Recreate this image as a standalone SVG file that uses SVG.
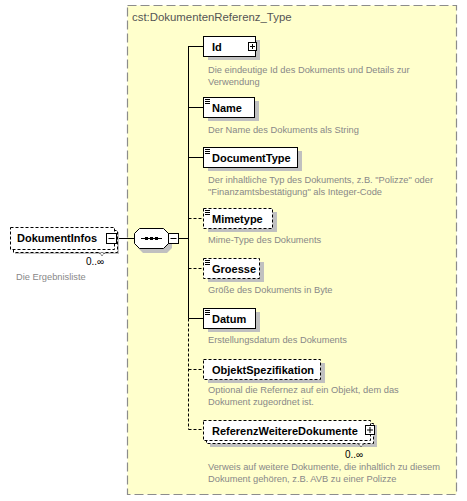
<svg xmlns="http://www.w3.org/2000/svg" width="467" height="501" viewBox="0 0 467 501">
<style>
.bg{fill:#ffffcc;stroke:#8c8c8c;stroke-width:1.2;stroke-dasharray:9,4}
.sh{fill:#c0c0c0}
.box{fill:#ffffff;stroke:#000;stroke-width:1}
.opt{fill:#ffffff;stroke:#000;stroke-width:1;stroke-dasharray:3,2}
.lbl{font-family:"Liberation Sans",Arial,sans-serif;font-size:11px;font-weight:bold;fill:#000}
.desc{font-family:"Liberation Sans",Arial,sans-serif;font-size:9.3px;fill:#888888}
.title{font-family:"Liberation Sans",Arial,sans-serif;font-size:11.4px;fill:#555555}
.occ{font-family:"Liberation Sans",Arial,sans-serif;font-size:10px;fill:#000}
.ln{stroke:#000;stroke-width:1;fill:none}
.dl{stroke:#000;stroke-width:1;fill:none;stroke-dasharray:3,2}
.ic{fill:#fff;stroke:#000;stroke-width:1}
</style>
<defs>
<g id="lines"><path d="M2,2.5h5M2,4.5h5M2,6.5h5" stroke="#000" stroke-width="1"/></g>
</defs>

<rect class="bg" x="127.5" y="5.5" width="329" height="489"/>
<text class="title" x="132" y="21">cst:DokumentenReferenz_Type</text>

<g id="connectors">
<line class="ln" x1="119" y1="238.5" x2="134" y2="238.5"/>
<line class="ln" x1="178" y1="238.5" x2="188.5" y2="238.5"/>
<line class="ln" x1="188.5" y1="46" x2="188.5" y2="318.5"/>
<line class="dl" x1="188.5" y1="318.5" x2="188.5" y2="429.5"/>
<line class="ln" x1="188.5" y1="46.5" x2="203" y2="46.5"/>
<line class="ln" x1="188.5" y1="107.5" x2="203" y2="107.5"/>
<line class="ln" x1="188.5" y1="157.5" x2="203" y2="157.5"/>
<line class="dl" x1="188.5" y1="218.5" x2="203" y2="218.5"/>
<line class="dl" x1="188.5" y1="268.5" x2="203" y2="268.5"/>
<line class="ln" x1="188.5" y1="318.5" x2="203" y2="318.5"/>
<line class="dl" x1="188.5" y1="369.5" x2="203" y2="369.5"/>
<line class="dl" x1="188.5" y1="429.5" x2="203" y2="429.5"/>
</g>

<g id="DokumentInfos">
<rect class="sh" x="15" y="232" width="104" height="22"/>
<rect class="opt" x="13.5" y="230.5" width="104" height="22"/>
<rect class="opt" x="10.5" y="227.5" width="104" height="22"/>
<path d="M99,252.5l3,3l3,-3" fill="#fff" stroke="#000" stroke-width="1" stroke-dasharray="2,1"/>
<text class="lbl" x="17" y="242">DokumentInfos</text>
<rect class="ic" x="106.5" y="233.5" width="10" height="10"/>
<line class="ln" x1="108.5" y1="238.5" x2="114.5" y2="238.5"/>
<text class="occ" x="86" y="265">0..∞</text>
<text class="desc" x="16" y="280">Die Ergebnisliste</text>
</g>

<g id="sequence">
<polygon class="sh" points="143,232 167,232 172,237 172,248 167,253 143,253 138,248 138,237"/>
<polygon class="box" points="139.5,228.5 163.5,228.5 168.5,233.5 168.5,243.5 163.5,248.5 139.5,248.5 134.5,243.5 134.5,233.5"/>
<line class="ln" x1="141" y1="238.5" x2="162" y2="238.5"/>
<rect x="145" y="237" width="3" height="3" fill="#000"/>
<rect x="150" y="237" width="3" height="3" fill="#000"/>
<rect x="155" y="237" width="3" height="3" fill="#000"/>
<rect class="ic" x="168.5" y="233.5" width="10" height="10"/>
<line class="ln" x1="170.5" y1="238.5" x2="176.5" y2="238.5"/>
</g>

<g id="Id">
<rect class="sh" x="208" y="40" width="52" height="20"/>
<rect class="box" x="203.5" y="36.5" width="52" height="20"/>
<text class="lbl" x="212" y="51">Id</text>
<rect class="ic" x="248.5" y="42.5" width="8" height="8"/>
<path class="ln" d="M250,46.5h5M252.5,44v5"/>
<text class="desc" x="208" y="73">Die eindeutige Id des Dokuments und Details zur</text>
<text class="desc" x="208" y="85">Verwendung</text>
</g>

<g id="Name">
<rect class="sh" x="208" y="101" width="51" height="20"/>
<rect class="box" x="203.5" y="97.5" width="51" height="20"/>
<use href="#lines" x="203" y="97"/>
<text class="lbl" x="212" y="112">Name</text>
<text class="desc" x="208" y="133">Der Name des Dokuments als String</text>
</g>

<g id="DocumentType">
<rect class="sh" x="208" y="151" width="94" height="20"/>
<rect class="box" x="203.5" y="147.5" width="94" height="20"/>
<use href="#lines" x="203" y="147"/>
<text class="lbl" x="212" y="162">DocumentType</text>
<text class="desc" x="208" y="183">Der inhaltliche Typ des Dokuments, z.B. "Polizze" oder</text>
<text class="desc" x="208" y="195">"Finanzamtsbestätigung" als Integer-Code</text>
</g>

<g id="Mimetype">
<rect class="sh" x="208" y="212" width="69" height="20"/>
<rect class="opt" x="203.5" y="208.5" width="69" height="20"/>
<use href="#lines" x="203" y="208"/>
<text class="lbl" x="212" y="223">Mimetype</text>
<text class="desc" x="208" y="243">Mime-Type des Dokuments</text>
</g>

<g id="Groesse">
<rect class="sh" x="208" y="262" width="56" height="20"/>
<rect class="opt" x="203.5" y="258.5" width="56" height="20"/>
<use href="#lines" x="203" y="258"/>
<text class="lbl" x="212" y="273">Groesse</text>
<text class="desc" x="208" y="293">Größe des Dokuments in Byte</text>
</g>

<g id="Datum">
<rect class="sh" x="208" y="312" width="52" height="20"/>
<rect class="box" x="203.5" y="308.5" width="52" height="20"/>
<use href="#lines" x="203" y="308"/>
<text class="lbl" x="212" y="323">Datum</text>
<text class="desc" x="208" y="343">Erstellungsdatum des Dokuments</text>
</g>

<g id="ObjektSpezifikation">
<rect class="sh" x="208" y="363" width="117" height="20"/>
<rect class="opt" x="203.5" y="359.5" width="117" height="20"/>
<text class="lbl" x="212" y="374">ObjektSpezifikation</text>
<text class="desc" x="208" y="393">Optional die Refernez auf ein Objekt, dem das</text>
<text class="desc" x="208" y="405">Dokument zugeordnet ist.</text>
</g>

<g id="ReferenzWeitereDokumente">
<rect class="sh" x="210" y="425" width="167" height="22"/>
<rect class="opt" x="206.5" y="423.5" width="167" height="20"/>
<rect class="opt" x="203.5" y="420.5" width="167" height="20"/>
<path d="M358,443.5l3,3l3,-3" fill="#fff" stroke="#000" stroke-width="1" stroke-dasharray="2,1"/>
<text class="lbl" x="212" y="435">ReferenzWeitereDokumente</text>
<rect class="ic" x="365.5" y="425.5" width="9" height="9"/>
<path class="ln" d="M367,430h6M370,427v6"/>
<text class="occ" x="345" y="458">0..∞</text>
<text class="desc" x="208" y="470">Verweis auf weitere Dokumente, die inhaltlich zu diesem</text>
<text class="desc" x="208" y="482">Dokument gehören, z.B. AVB zu einer Polizze</text>
</g>
</svg>
